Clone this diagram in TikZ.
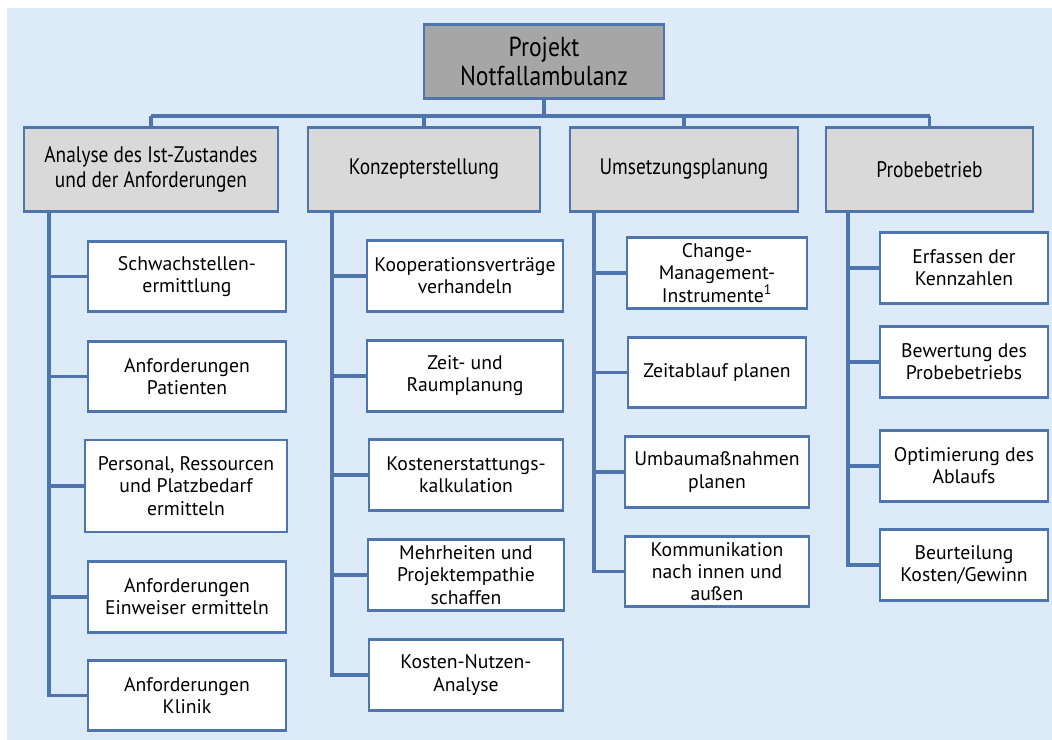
\documentclass[tikz,border=0pt]{standalone}
\usepackage{fontspec}
\setmainfont{PT Sans}
\newfontfamily\headfont[FakeStretch=0.86]{PT Sans}
\usetikzlibrary{positioning,calc}
\definecolor{WbsBlue}{RGB}{79,117,175}
\definecolor{PaleBlue}{RGB}{221,234,247}
\definecolor{RootGray}{RGB}{166,166,166}
\definecolor{HeadGray}{RGB}{217,217,217}
\tikzset{
	root/.style={draw=WbsBlue,fill=RootGray,line width=2pt,minimum width=6cm,minimum height=1.83cm,
		inner ysep=1pt,align=center,font=\headfont\fontsize{19.5}{21}\selectfont},
	phase/.style={draw=WbsBlue,fill=HeadGray,line width=2pt,minimum height=2.08cm,
		align=center,font=\headfont\fontsize{16}{18}\selectfont},
	task/.style={draw=WbsBlue,fill=white,line width=2pt,minimum height=1.76cm,
		inner ysep=1pt,align=center,font=\fontsize{14}{15.8}\selectfont},
	link/.style={draw=WbsBlue,line width=2.2pt},
}

\begin{document}
\begin{tikzpicture}[x=0.025cm,y=-0.025cm]
	\useasboundingbox (0,0) rectangle (1052,740);
	\fill[PaleBlue] (7,8) rectangle (1052,740);

	% top level
	\node[root] (proj) at (544,61.5) {Projekt\\Notfallambulanz};
	\node[phase,minimum width=6.35cm] (ph1) at (151,169.5) {Analyse des Ist-Zustandes\\und der Anforderungen};
	\node[phase,minimum width=5.8cm] (ph2) at (424,169.5) {Konzepterstellung};
	\node[phase,minimum width=5.7cm] (ph3) at (684,169.5) {Umsetzungsplanung};
	\node[phase,minimum width=5.175cm] (ph4) at (929.5,169.5) {Probebetrieb};

	% Analyse
	\node[task,minimum width=4.95cm] (a1) at (187,276.5) {Schwachstellen-\\ermittlung};
	\node[task,minimum width=4.95cm] (a2) at (187,376.5) {Anforderungen\\Patienten};
	\node[task,minimum width=5.05cm,minimum height=2.3cm] (a3) at (186,486) {Personal, Ressourcen\\und Platzbedarf\\ermitteln};
	\node[task,minimum width=4.95cm] (a4) at (187,597) {Anforderungen\\Einweiser ermitteln};
	\node[task,minimum width=4.95cm] (a5) at (187,695.5) {Anforderungen\\Klinik};

	% Konzept
	\node[task,minimum width=4.9cm] (k1) at (465,276) {Kooperationsverträge\\verhandeln};
	\node[task,minimum width=4.9cm] (k2) at (465,376) {Zeit- und\\Raumplanung};
	\node[task,minimum width=4.85cm] (k3) at (466,475) {Kostenerstattungs-\\kalkulation};
	\node[task,minimum width=4.9cm] (k4) at (466,575) {Mehrheiten und\\Projektempathie\\schaffen};
	\node[task,minimum width=4.85cm] (k5) at (466,675) {Kosten-Nutzen-\\Analyse};

	% Umsetzung
	\node[task,minimum width=4.5cm] (u1) at (717,273) {Change-\\Management-\\Instrumente\textsuperscript{1}};
	\node[task,minimum width=4.45cm] (u2) at (717,372.5) {Zeitablauf planen};
	\node[task,minimum width=4.6cm] (u3) at (717,472) {Umbaumaßnahmen\\planen};
	\node[task,minimum width=4.6cm] (u4) at (717,571.5) {Kommunikation\\nach innen und\\außen};

	% Probebetrieb
	\node[task,minimum width=4.2cm] (p1) at (964,268) {Erfassen der\\Kennzahlen};
	\node[task,minimum width=4.2cm] (p2) at (964,362) {Bewertung des\\Probebetriebs};
	\node[task,minimum width=4.2cm] (p3) at (964,466) {Optimierung des\\Ablaufs};
	\node[task,minimum width=4.2cm] (p4) at (964,565) {Beurteilung\\Kosten/Gewinn};

	% bus
	\coordinate (bus) at (0,116);
	\draw[link] (proj.south) -- (proj.south |- bus);
	\draw[link] (ph1.north |- bus) -- (ph4.north |- bus);
	\foreach \p in {ph1,ph2,ph3,ph4}
		\draw[link] (\p.north) -- (\p.north |- bus);

	% trunks
	\coordinate (t1) at (49,211);
	\coordinate (t2) at (332,211);
	\coordinate (t3) at (594,211);
	\coordinate (t4) at (848,211);
	\draw[link] (t1) |- (a5.west);
	\foreach \i in {1,...,4}
		\draw[link] (a\i.west) -- (a\i.west -| t1);
	\draw[link] (t2) |- (k5.west);
	\foreach \i in {1,...,4}
		\draw[link] (k\i.west) -- (k\i.west -| t2);
	\draw[link] (t3) |- (u4.west);
	\foreach \i in {1,...,3}
		\draw[link] (u\i.west) -- (u\i.west -| t3);
	\draw[link] (t4) |- (p4.west);
	\foreach \i in {1,...,3}
		\draw[link] (p\i.west) -- (p\i.west -| t4);
\end{tikzpicture}
\end{document}
